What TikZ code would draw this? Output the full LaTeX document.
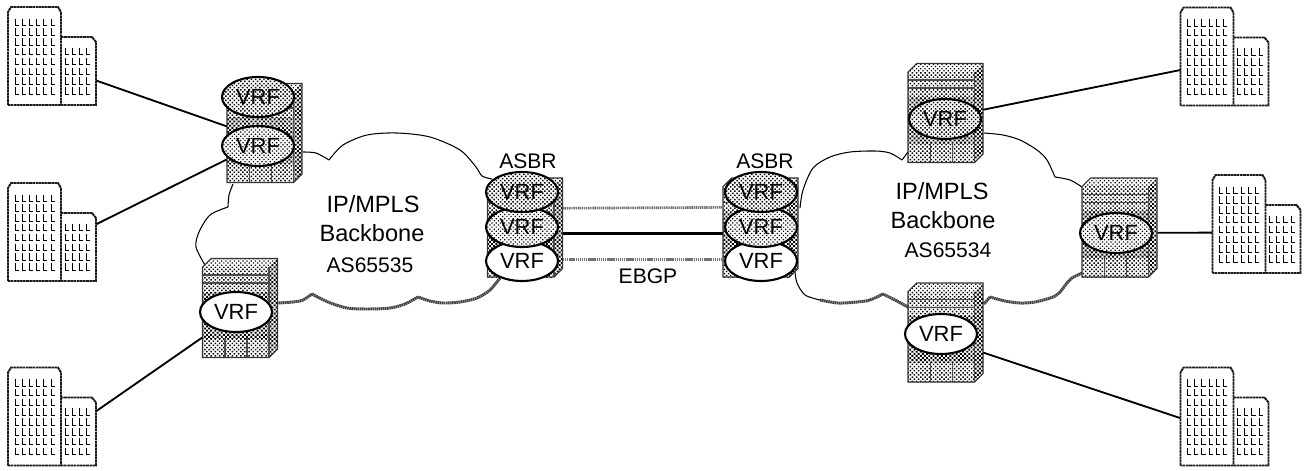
\documentclass[tikz,border=0pt]{standalone}
\usepackage{fontspec}
\setmainfont{Liberation Sans}
\usetikzlibrary{shapes.geometric,patterns.meta}

\tikzset{
  dithdark/.style={pattern={Dots[radius=0.78pt,distance=1.7pt,angle=45]},pattern color=black},
  dithmid/.style={pattern={Dots[radius=0.6pt,distance=1.7pt,angle=45]},pattern color=black},
  dithlight/.style={pattern={Dots[radius=0.5pt,distance=1.7pt,angle=45]},pattern color=black},
  vrf/.style={ellipse,draw=black,line width=1.2pt,minimum width=1.44cm,minimum height=.8cm,inner sep=0,font=\fontsize{12.5}{14}\selectfont},
  vrfdark/.style={vrf,preaction={fill=white},dithmid},
  vrflight/.style={vrf,preaction={fill=white},dithlight},
  vrfwhite/.style={vrf,fill=white},
  rtr/.style={minimum width=1.5cm,minimum height=1.98cm,inner sep=0},
  bldg/.style={minimum width=1.76cm,minimum height=1.96cm,inner sep=0},
  lbl/.style={inner sep=0,font=\fontsize{12}{14}\selectfont},
  lblbig/.style={inner sep=0,font=\fontsize{13.4}{15}\selectfont},
  access/.style={line width=1.05pt},
  grayline/.style={line width=1.5pt,black!55,dash pattern=on .8pt off .4pt},
  cloudline/.style={line width=.6pt},
  cloudshadow/.style={line width=1.7pt,black!75,dash pattern=on .9pt off .3pt},
  bldgline/.style={line width=1.1pt,black!90,dash pattern=on 1.5pt off .3pt},
  chassis/.pic={
    \fill[white] (-37.5,-41) -- (-29,-49.5) -- (37.5,-49.5) -- (37.5,41) -- (29,49.5) -- (-37.5,49.5) -- cycle;
    \fill[dithlight] (-37.5,-41) -- (-29,-49.5) -- (37.5,-49.5) -- (29,-41) -- cycle;
    \fill[dithmid] (-37.5,-41) rectangle (29,-16);
    \fill[dithdark] (-37.5,-16) rectangle (29,30);
    \fill[dithmid] (-37.5,30) rectangle (29,49.5);
    \fill[dithdark] (29,-41) -- (37.5,-49.5) -- (37.5,41) -- (29,49.5) -- cycle;
    \draw[black!70,line width=.6pt] (-37.5,-33) -- (29,-33);
    \draw[black!70,line width=.6pt] (-37.5,-25) -- (29,-25);
    \draw[black!70,line width=.7pt] (-15,30) -- (-15,49.5);
    \draw[black!70,line width=.7pt] (7,30) -- (7,49.5);
    \draw[black!70,line width=.7pt] (29,-41) -- (29,49.5);
    \draw[black!80,line width=.6pt] (-37.5,-41) -- (-29,-49.5) -- (37.5,-49.5) -- (37.5,41) -- (29,49.5) -- (-37.5,49.5) -- cycle;
  },
  building/.pic={
    \draw[bldgline] (-44,49) -- (-44,-44) -- (-41,-49) -- (6,-49) -- (9,-44) -- (9,49);
    \draw[bldgline] (9,-19) -- (40,-19) -- (44,-14) -- (44,49) -- (-44,49);
    \foreach \i in {0,...,5}
      \foreach \j in {0,...,7}
        \draw[line width=.55pt] ({-37+\i*7.2},{-37.5+\j*9.8}) -- ++(0,7) -- ++(3.6,0);
    \foreach \i in {0,...,3}
      \foreach \j in {3,...,7}
        \draw[line width=.55pt] ({13+\i*7.2},{-37.5+\j*9.8}) -- ++(0,7) -- ++(3.6,0);
  },
}

\begin{document}
\begin{tikzpicture}[x=.02cm,y=-.02cm]
\useasboundingbox (0,0) rectangle (1308,470);

% clouds
\draw[cloudline] plot[smooth] coordinates {(303,152) (316,153) (329,160)};
\draw[cloudline] plot[smooth] coordinates {(329,160) (343,145) (367,135) (397,133) (430,137) (460,150) (476,167) (482,176) (492,179)};
\draw[cloudline] plot[smooth] coordinates {(233,184) (229,195) (228,207)};
\draw[cloudline] plot[smooth] coordinates {(228,207) (210,215) (199,232) (196,247) (205,265)};
\draw[cloudshadow] plot[smooth] coordinates {(500,278) (490,290) (477,298) (460,302) (443,303) (430,301) (418,297)};
\draw[cloudshadow] plot[smooth] coordinates {(418,297) (405,304) (390,308) (368,309) (347,308) (328,302) (312,294)};
\draw[cloudshadow] plot[smooth] coordinates {(312,294) (303,300) (293,302) (277,303)};

\draw[cloudline] plot[smooth] coordinates {(800,208) (803,190) (813,168) (830,157) (850,152) (875,151) (890,153) (902,160)};
\draw[cloudline] (902,160) -- (908,152);
\draw[cloudline] plot[smooth] coordinates {(984,133) (1003,135) (1020,140) (1037,150) (1047,160) (1055,177)};
\draw[cloudline] plot[smooth] coordinates {(1055,177) (1070,180) (1082,187)};
\draw[cloudshadow] plot[smooth] coordinates {(1082,273) (1072,278) (1067,283) (1060,292) (1053,297) (1035,302) (1020,303) (1005,301) (990,297)};
\draw[cloudshadow] (990,297) -- (984,304);
\draw[cloudshadow] plot[smooth] coordinates {(908,307) (895,300) (883,294)};
\draw[cloudshadow] plot[smooth] coordinates {(883,294) (870,300) (857,302) (838,303) (820,300)};
\draw[cloudline] plot[smooth] coordinates {(820,300) (805,295) (797,283) (795,272)};

% buildings
\node[bldg] (bA) at (52,56) {};
\node[bldg] (bB) at (52,232) {};
\node[bldg] (bC) at (52,416.5) {};
\node[bldg] (bD) at (1224.5,56.5) {};
\node[bldg] (bE) at (1256.5,224) {};
\node[bldg] (bF) at (1224.5,416.5) {};
\foreach \n in {bA,bB,bC,bD,bE,bF}
  \pic at (\n) {building};

% routers
\node[rtr] (rA) at (264.5,133) {};
\node[rtr] (rB) at (240,308) {};
\node[rtr] (rC) at (525,227.5) {};
\node[rtr] (rD) at (760.5,227.5) {};
\node[rtr] (rE) at (945.5,113) {};
\node[rtr] (rF) at (1119.5,227.5) {};
\node[rtr] (rG) at (945.5,332.5) {};
\foreach \n in {rA,rB,rC,rD,rE,rF,rG}
  \pic at (\n) {chassis};

\node[vrfdark] (vA) at (258,97) {VRF};
\node[vrflight] (vB) at (258,146) {VRF};
\node[vrfwhite] (vC) at (236,312) {VRF};
\node[vrfwhite] (vF) at (522,261) {VRF};
\node[vrflight] (vE) at (522,227) {VRF};
\node[vrfdark] (vD) at (522,192) {VRF};
\node[vrfwhite] (vI) at (761,261) {VRF};
\node[vrflight] (vH) at (761,227) {VRF};
\node[vrfdark] (vG) at (761,192) {VRF};
\node[vrfdark] (vJ) at (945,119) {VRF};
\node[vrflight] (vK) at (1116,233) {VRF};
\node[vrfwhite] (vL) at (941,334) {VRF};

% access links
\draw[access] (bA.-29) -- (rA.170);
\draw[access] (bB.10) -- (rA.215);
\draw[access] (bC.7) -- (rB.218);
\draw[access] (rE.5) -- (bD.197);
\draw[access] (rF.-8.3) -- (bE.191.7);
\draw[access] (rG.-28) -- (bF.182);

% links between the ASBRs
\draw[grayline] (rC.27.5) -- (rD.152.5);
\draw[line width=1.5pt] (rC.-9.8) -- (rD.189.8);
\draw[grayline] (rC.-40.9) -- (rD.220.9);

% labels
\node[lbl] (asbrL) at (528,161) {ASBR};
\node[lbl] (asbrR) at (765,161) {ASBR};
\node[lbl] (ebgp) at (648,276) {EBGP};
\node[lblbig] (ipL) at (373,204) {IP/MPLS};
\node[lblbig] (bbL) at (372,233) {Backbone};
\node[lbl] (asL) at (370,265) {AS65535};
\node[lblbig] (ipR) at (942,191) {IP/MPLS};
\node[lblbig] (bbR) at (943,220) {Backbone};
\node[lbl] (asR) at (948,250) {AS65534};
\end{tikzpicture}
\end{document}
